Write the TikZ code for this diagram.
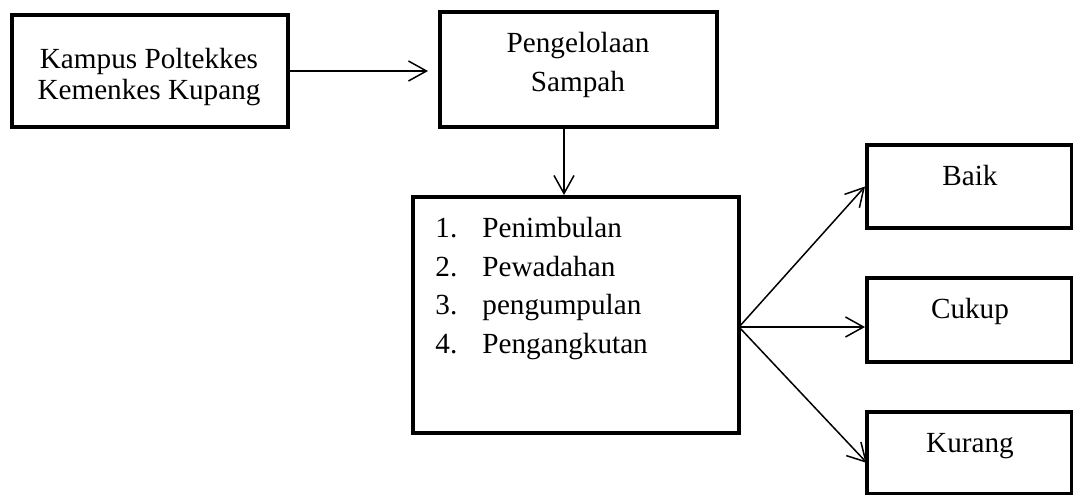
\documentclass[tikz,border=0pt]{standalone}
\usepackage{fontspec}
\setmainfont{Liberation Serif}
\usetikzlibrary{arrows.meta}
\begin{document}
\begin{tikzpicture}[x=0.5pt,y=-0.5pt,
  box/.style={draw,line width=2pt,inner sep=0pt,minimum width=#1},
  txt/.style={inner sep=0pt,font=\fontsize{14.6pt}{17pt}\selectfont},
  conn/.style={line width=0.75pt,-{Straight Barb[length=9pt,width=10pt,line width=0.75pt]}}]
\useasboundingbox (0,0) rectangle (1073,494);
% boxes
\node[box=138pt,minimum height=56pt] (A) at (150,71) {};
\node[box=138.5pt,minimum height=57.5pt] (B) at (578.5,69.5) {};
\node[box=163pt,minimum height=118pt] (C) at (576,315) {};
\node[box=102.5pt,minimum height=41.5pt] (D) at (969.5,186.5) {};
\node[box=102.5pt,minimum height=42pt] (E) at (969.5,320) {};
\node[box=102.5pt,minimum height=41pt] (F) at (969.5,453) {};
% texts
\node[txt,anchor=base] (a1) at (149,68) {Kampus Poltekkes};
\node[txt,anchor=base] (a2) at (149,99) {Kemenkes Kupang};
\node[txt,anchor=base] (b1) at (578,52) {Pengelolaan};
\node[txt,anchor=base] (b2) at (578,91) {Sampah};
\node[txt,anchor=base west] (n1) at (435,237) {1.};
\node[txt,anchor=base west] (t1) at (482,237) {Penimbulan};
\node[txt,anchor=base west] (n2) at (435,276) {2.};
\node[txt,anchor=base west] (t2) at (482,276) {Pewadahan};
\node[txt,anchor=base west] (n3) at (435,314) {3.};
\node[txt,anchor=base west] (t3) at (482,314) {pengumpulan};
\node[txt,anchor=base west] (n4) at (435,353) {4.};
\node[txt,anchor=base west] (t4) at (482,353) {Pengangkutan};
\node[txt,anchor=base] (d1) at (970,185) {Baik};
\node[txt,anchor=base] (e1) at (970,318) {Cukup};
\node[txt,anchor=base] (f1) at (970,452) {Kurang};
% connectors
\coordinate (px) at (564,0);
\coordinate (s) at (739,327);
\coordinate (kt) at (867,463);
\draw[conn,shorten >=5pt] (A.east) -- (B.west |- A.east);
\draw[conn] (B.south -| px) -- (C.north -| px);
\draw[conn] (s) -- (D.west);
\draw[conn] (s) -- (E.west |- s);
\draw[conn] (s) -- (kt);
\end{tikzpicture}
\end{document}
